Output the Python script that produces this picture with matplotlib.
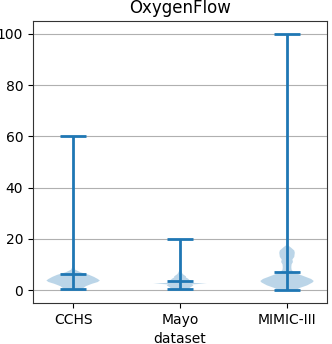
import numpy as np
import matplotlib
matplotlib.use("Agg")
import matplotlib.pyplot as plt

datasets = ["CCHS", "Mayo", "MIMIC-III"]
mins = [0.6, 0.5, 0.0]
maxs = [60.0, 20.0, 100.0]
means = [6.5, 3.6, 7.0]
medians = [3.5, 2.6, 4.0]

# relative density profiles (value, relative width)
cchs_y = [0.6, 1.6, 2.5, 3.2, 3.8, 4.4, 5.2, 6.0, 7.0, 8.0, 9.0, 12.0, 20.0, 40.0, 60.0]
cchs_d = [0.35, 0.48, 0.7, 0.92, 1.0, 0.92, 0.78, 0.6, 0.28, 0.08, 0.03, 0.012, 0.006, 0.003, 0.002]

mayo_y = [0.5, 1.2, 1.9, 2.3, 2.5, 2.6, 2.7, 2.9, 3.5, 4.0, 4.5, 5.0, 5.4, 6.3, 7.0, 8.0, 12.0, 20.0]
mayo_d = [0.3, 0.4, 0.5, 0.45, 0.8, 1.0, 0.8, 0.45, 0.45, 0.35, 0.3, 0.22, 0.22, 0.1, 0.06, 0.02, 0.008, 0.003]

mimic_y = [0.0, 0.8, 1.9, 3.0, 3.6, 4.4, 5.2, 6.2, 7.0, 8.0, 9.0, 10.1, 11.0, 12.0, 13.0, 14.6, 15.5, 16.6, 17.5, 20.0, 40.0, 70.0, 100.0]
mimic_d = [0.35, 0.45, 0.75, 0.95, 1.0, 0.9, 0.7, 0.45, 0.25, 0.17, 0.16, 0.17, 0.22, 0.2, 0.27, 0.29, 0.27, 0.15, 0.04, 0.012, 0.004, 0.002, 0.001]

profiles = [(cchs_y, cchs_d), (mayo_y, mayo_d), (mimic_y, mimic_d)]

vpstats = []
for (ys, ds), mn, mx, me, md in zip(profiles, mins, maxs, means, medians):
    vpstats.append(dict(coords=np.array(ys), vals=np.array(ds),
                        mean=me, median=md, min=mn, max=mx))

fig = plt.figure(figsize=(3.32, 3.44), dpi=100)
ax = fig.add_axes([0.0994, 0.119, 0.886, 0.82])
parts = ax.violin(vpstats, positions=[1, 2, 3], widths=0.5, showmeans=True, showextrema=True)
for key in ("cmeans", "cmins", "cmaxes", "cbars"):
    parts[key].set_linewidth(2.0)
ax.set_xticks([1, 2, 3])
ax.set_xticklabels(datasets)
ax.set_xlabel("dataset")
ax.set_title("OxygenFlow")
ax.yaxis.grid(True, color="#b0b0b0", linewidth=0.8)
ax.set_axisbelow(True)
for s in ax.spines.values():
    s.set_color("#333333")
fig.savefig("out.png", dpi=100)
